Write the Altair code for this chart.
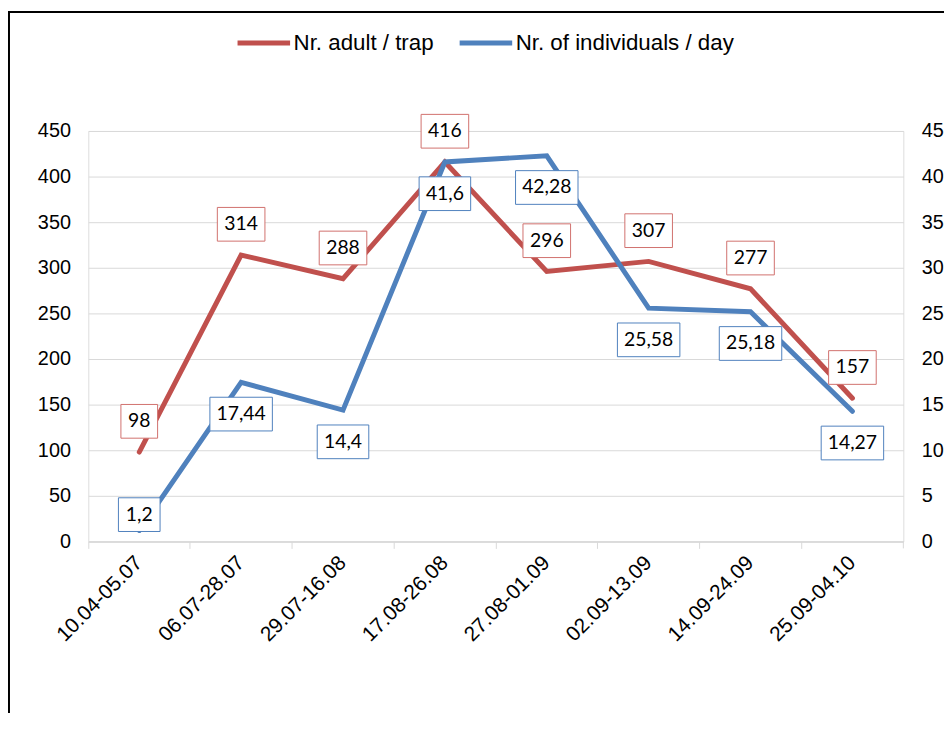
import altair as alt
import pandas as pd

# ---------------- data ----------------
categories = ["10.04-05.07", "06.07-28.07", "29.07-16.08", "17.08-26.08",
              "27.08-01.09", "02.09-13.09", "14.09-24.09", "25.09-04.10"]
adult_per_trap = [98, 314, 288, 416, 296, 307, 277, 157]
individuals_per_day = [1.2, 17.44, 14.4, 41.6, 42.28, 25.58, 25.18, 14.27]
adult_label_pos = ["above"] * 8
indiv_label_pos = ["above", "below", "below", "below", "below", "below", "below", "below"]
series_names = ["Nr. adult / trap", "Nr. of individuals / day"]
left_ticks = [0, 50, 100, 150, 200, 250, 300, 350, 400, 450]
right_ticks = [0, 5, 10, 15, 20, 25, 30, 35, 40, 45]

# ---------------- style ----------------
RED = "#C0504D"
BLUE = "#4F81BD"
RED_BOX = "#D0706D"
GRID = "#D9D9D9"
AX_FONT = "Liberation Sans"
LBL_FONT = "Lato"
W, H = 822, 414
TOP = 121


def make_df(values, pos, name):
    df = pd.DataFrame({"cat": categories, "v": values, "pos": pos})
    df["series"] = name
    df["label"] = [str(v).replace(".", ",") for v in values]
    df["bw"] = [int(round(16 + 10.5 * sum(c.isdigit() for c in s) + 5 * s.count(",")))
                for s in df["label"]]
    return df


df_red = make_df(adult_per_trap, adult_label_pos, series_names[0])
df_blue = make_df(individuals_per_day, indiv_label_pos, series_names[1])

x_enc = alt.X(
    "cat:N", sort=categories,
    scale=alt.Scale(type="band", paddingInner=0, paddingOuter=0),
    axis=alt.Axis(title=None, bandPosition=0,
                  labelAngle=-45, labelAlign="right", labelBaseline="middle",
                  labelPadding=11, labelFont=AX_FONT, labelFontSize=21,
                  labelColor="#000000", tickColor=GRID, tickSize=7, tickWidth=1,
                  domainColor=GRID, domainWidth=1.5, grid=False, labelOverlap=False),
)

left_scale = alt.Scale(domain=[0, 450], nice=False, zero=True)
right_scale = alt.Scale(domain=[0, 45], nice=False, zero=True)

color_scale = alt.Scale(domain=series_names, range=[RED, BLUE])
legend = alt.Legend(title=None, orient="none", legendX=148, legendY=-118,
                    direction="horizontal", symbolType="stroke", symbolSize=2809,
                    symbolStrokeWidth=5, labelFont=AX_FONT, labelFontSize=22.5,
                    labelColor="#000000", labelOffset=1, columnPadding=15, padding=0,
                    labelLimit=0)
color_enc = alt.Color("series:N", scale=color_scale, legend=legend)

red_line = alt.Chart(df_red).mark_line(strokeWidth=5, strokeCap="round").encode(
    x=x_enc,
    y=alt.Y("v:Q", scale=left_scale,
            axis=alt.Axis(orient="left", title=None, values=left_ticks, grid=True,
                          gridColor=GRID, gridWidth=1, domain=False, ticks=False,
                          labelPadding=18, labelFont=AX_FONT, labelFontSize=20,
                          labelColor="#000000")),
    color=color_enc,
)

blue_line = alt.Chart(df_blue).mark_line(strokeWidth=5, strokeCap="round").encode(
    x=x_enc,
    y=alt.Y("v:Q", scale=right_scale,
            axis=alt.Axis(orient="right", title=None, values=right_ticks, grid=False,
                          domain=False, ticks=False, labelPadding=18,
                          labelFont=AX_FONT, labelFontSize=20, labelColor="#000000")),
    color=color_enc,
)


def label_layers(df, scale, box_color, offsets):
    layers = []
    y = alt.Y("v:Q", scale=scale, axis=None)
    for pos, dy in offsets.items():
        sub = df[df["pos"] == pos]
        if sub.empty:
            continue
        for w in sorted(sub["bw"].unique()):
            layers.append(
                alt.Chart(df).transform_filter(
                    f"datum.pos == '{pos}' && datum.bw == {int(w)}"
                ).mark_rect(width=int(w), height=34, fill="white", stroke=box_color,
                            strokeWidth=1, yOffset=dy).encode(x=x_enc, y=y)
            )
        layers.append(
            alt.Chart(df).transform_filter(f"datum.pos == '{pos}'").mark_text(
                dy=dy, font=LBL_FONT, fontSize=19.5, color="#000000",
                align="center", baseline="middle"
            ).encode(x=x_enc, y=y, text="label:N")
        )
    return layers


red_labels = label_layers(df_red, left_scale, RED_BOX, {"above": -31})
blue_labels = label_layers(df_blue, right_scale, BLUE, {"above": -16, "below": 32})

one = pd.DataFrame({"a": [0]})
end_tick = alt.Chart(one).mark_rule(color=GRID, strokeWidth=1).encode(
    x=alt.value(W), y=alt.value(H), y2=alt.value(H + 7))
border_left = alt.Chart(one).mark_rule(color="#000000", strokeWidth=2).encode(
    x=alt.value(-80), y=alt.value(-TOP), y2=alt.value(H + 200))
border_top = alt.Chart(one).mark_rule(color="#000000", strokeWidth=2).encode(
    x=alt.value(-81), x2=alt.value(W + 45), y=alt.value(-TOP + 1))

chart = alt.layer(
    red_line, blue_line, *red_labels, *blue_labels, end_tick, border_left, border_top
).resolve_scale(y="independent").properties(
    width=W, height=H,
    padding={"left": 81, "top": TOP, "right": 41, "bottom": 170},
    autosize=alt.AutoSizeParams(type="none"),
).configure_view(stroke=None).configure(background="white")

chart.save("out.html", embed_options={"renderer": "svg", "actions": False})
